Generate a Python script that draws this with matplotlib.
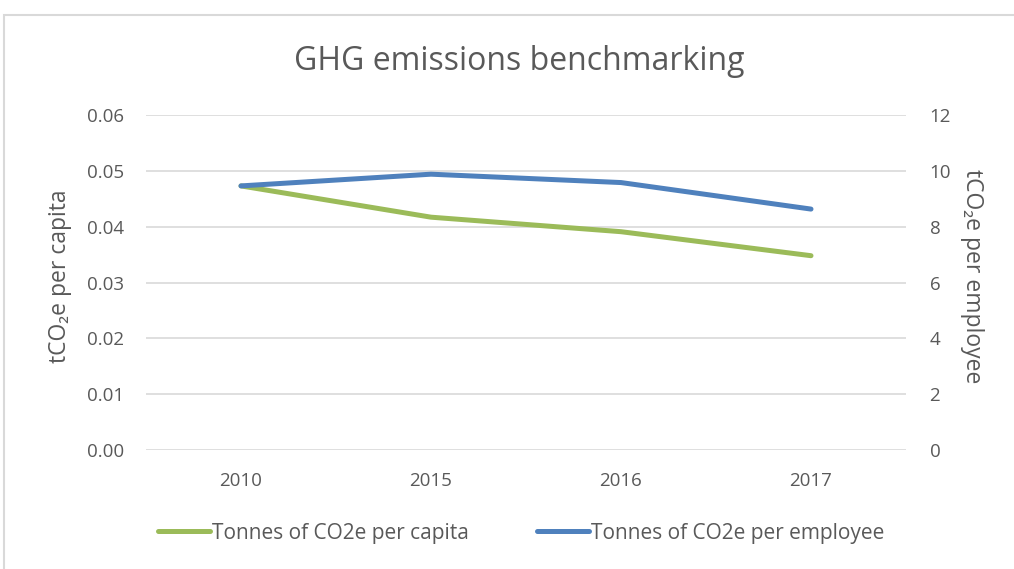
import matplotlib.pyplot as plt
from matplotlib.patches import Rectangle

years = ["2010", "2015", "2016", "2017"]
per_capita = [0.0473, 0.0417, 0.0391, 0.0348]
per_employee = [9.46, 9.88, 9.58, 8.63]

plt.rcParams['font.family'] = ['Open Sans', 'DejaVu Sans']
grey = "#595959"
green = "#9BBB59"
blue = "#4F81BD"

fig = plt.figure(figsize=(10.14, 5.69), dpi=100)
fig.patches.append(Rectangle((4 / 1014, -0.1), 1.2, 1 - 15 / 569 + 0.1,
                             transform=fig.transFigure, fill=False,
                             edgecolor="#D9D9D9", linewidth=1.5))

ax = fig.add_axes([146 / 1014, 1 - 450 / 569, 760 / 1014, 335 / 569])
ax2 = ax.twinx()
x = range(len(years))

l1, = ax.plot(x, per_capita, color=green, linewidth=3.6, solid_capstyle="round",
              label="Tonnes of CO2e per capita", zorder=3)
l2, = ax2.plot(x, per_employee, color=blue, linewidth=3.6, solid_capstyle="round",
               label="Tonnes of CO2e per employee", zorder=3)

ax.set_xlim(-0.5, 3.5)
ax.set_ylim(0, 0.06)
ax2.set_ylim(0, 12)
ax.set_yticks([0, 0.01, 0.02, 0.03, 0.04, 0.05, 0.06])
ax.set_yticklabels([f"{v:.2f}" for v in ax.get_yticks()])
ax2.set_yticks([0, 2, 4, 6, 8, 10, 12])
ax.set_xticks(list(x))
ax.set_xticklabels(years)

ax.grid(axis="y", color="#D9D9D9", linewidth=1.2)
ax.set_axisbelow(True)
for a in (ax, ax2):
    for s in a.spines.values():
        s.set_visible(False)
    a.tick_params(length=0, labelsize=13.5, colors=grey)
ax.tick_params(axis="y", pad=16)
ax.tick_params(axis="x", pad=16)
ax2.tick_params(axis="y", pad=17)

ax.set_ylabel("tCO₂e per capita", fontsize=16.5, color=grey, va="center")
ax.yaxis.set_label_coords(-0.113, 0.52)
ax2.set_ylabel("tCO₂e per employee", fontsize=16.5, color=grey, rotation=270, va="center")
ax2.yaxis.set_label_coords(1.087, 0.52)

fig.text(0.512, 1 - 62 / 569, "GHG emissions benchmarking", ha="center", va="center",
         fontsize=23, color=grey)

fig.legend(handles=[l1, l2], loc="center", bbox_to_anchor=(0.514, 1 - 533 / 569),
           ncol=2, frameon=False, fontsize=15, labelcolor=grey,
           handlelength=2.5, handletextpad=0.1, columnspacing=3.3)

fig.savefig("out.png", dpi=100)
